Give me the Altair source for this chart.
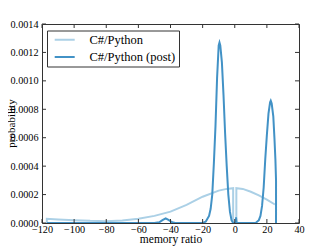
import altair as alt
import pandas as pd

# C#/Python (light curve)
light_x = [-117, -117, -110, -100, -90, -80, -70, -60, -50, -40, -30, -20, -10, -5, -1, -1, 1, 1, 5, 10, 15, 20, 25]
light_p = [0.0, 0.00003, 0.000025, 0.00002, 0.000015, 0.000013, 0.000017, 0.00003, 0.00005, 0.00008, 0.000128,
           0.000185, 0.000228, 0.00024, 0.000245, 0.0, 0.0, 0.000245, 0.00024, 0.00022, 0.000195, 0.000165, 0.00013]

# C#/Python (post) (dark curve)
post_x = [-117, -50, -47, -45, -43, -41, -39, -37, -20, -18, -16, -15, -14, -13, -12, -11, -10, -9.5, -9, -8, -7,
          -6, -5, -4, -3, -2, -1, 0.8, 0.8, 1.2, 13, 15, 16, 17, 18, 19, 20, 21, 22, 22.4, 23, 24, 24.7, 25.3, 25.7, 25.7]
post_p = [0.0, 0.0, 0.000005, 0.00002, 0.000033, 0.00002, 0.000005, 0.0, 0.0, 0.00001, 0.00005, 0.0001, 0.0002,
          0.00042, 0.00068, 0.00102, 0.00125, 0.00127, 0.00125, 0.00113, 0.0009, 0.00063, 0.0004, 0.0002, 0.00008,
          0.00002, 0.0, 0.0, 0.00004, 0.0, 0.0, 0.00002, 0.00005, 0.00012, 0.00025, 0.00045, 0.00062, 0.00077,
          0.00085, 0.00086, 0.00084, 0.00075, 0.0006, 0.00045, 0.0003, 0.0]

series_names = ["C#/Python", "C#/Python (post)"]
series_colors = ["#abd0e6", "#4292c6"]

x_ticks = [-120, -100, -80, -60, -40, -20, 0, 20, 40]
y_ticks = [0.0, 0.0002, 0.0004, 0.0006, 0.0008, 0.0010, 0.0012, 0.0014]

rows = []
for i, (x, p) in enumerate(zip(light_x, light_p)):
    rows.append({"x": x, "p": p, "series": series_names[0], "idx": i})
for i, (x, p) in enumerate(zip(post_x, post_p)):
    rows.append({"x": x, "p": p, "series": series_names[1], "idx": i})
df = pd.DataFrame(rows)

W, H = 257, 199
FONT = "Liberation Serif"

xscale = alt.Scale(domain=[-120, 40], nice=False, zero=False)
yscale = alt.Scale(domain=[0, 0.0014], nice=False)

xaxis = alt.Axis(values=x_ticks, title="memory ratio", ticks=False, domain=False, grid=False,
                 labelPadding=1, titleY=19.5, titleBaseline="alphabetic", titleFontWeight="normal",
                 titleFontSize=11.5, labelFontSize=10.2, labelOverlap=False, labelFlush=False,
                 labelFont=FONT, titleFont=FONT, labelColor="black", titleColor="black")
yaxis = alt.Axis(values=y_ticks, format=".4f", title="probability", ticks=False, domain=False,
                 grid=False, labelPadding=4, titleX=-28, titleY=99, titleAlign="center",
                 titleBaseline="alphabetic", titleAngle=-90, titleFontWeight="normal",
                 titleFontSize=11, labelFontSize=10.2, labelOverlap=False, labelFlush=False,
                 labelFont=FONT, titleFont=FONT, labelColor="black", titleColor="black")

lines = alt.Chart(df).mark_line(strokeWidth=2, clip=True).encode(
    x=alt.X("x:Q", scale=xscale, axis=xaxis),
    y=alt.Y("p:Q", scale=yscale, axis=yaxis),
    color=alt.Color("series:N", scale=alt.Scale(domain=series_names, range=series_colors),
                    legend=alt.Legend(title=None, orient="none", legendX=5, legendY=6.5, direction="vertical",
                                      symbolType="stroke", symbolSize=400, symbolStrokeWidth=2,
                                      clipHeight=12.6, rowPadding=4.1, padding=3,
                                      symbolOffset=3.7, labelOffset=13.7,
                                      labelFont=FONT, labelFontSize=12.5, labelColor="black",
                                      strokeColor="#333", fillColor="white")),
    order=alt.Order("idx:Q"),
)

xt = pd.DataFrame({"t": x_ticks})
yt = pd.DataFrame({"t": y_ticks})
tick_color = "#333"
xb = alt.Chart(xt).mark_rule(color=tick_color, strokeWidth=1).encode(
    x=alt.X("t:Q", scale=xscale, axis=xaxis), y=alt.value(H), y2=alt.value(H - 4))
xtop = alt.Chart(xt).mark_rule(color=tick_color, strokeWidth=1).encode(
    x=alt.X("t:Q", scale=xscale, axis=xaxis), y=alt.value(0), y2=alt.value(4))
yl = alt.Chart(yt).mark_rule(color=tick_color, strokeWidth=1).encode(
    y=alt.Y("t:Q", scale=yscale, axis=yaxis), x=alt.value(0), x2=alt.value(4))
yr = alt.Chart(yt).mark_rule(color=tick_color, strokeWidth=1).encode(
    y=alt.Y("t:Q", scale=yscale, axis=yaxis), x=alt.value(W), x2=alt.value(W - 4))

chart = alt.layer(lines, xb, xtop, yl, yr).properties(
    width=W, height=H,
    autosize=alt.AutoSizeParams(type="none"),
    padding={"left": 34, "top": 16, "right": 20, "bottom": 24},
    background="white",
).configure_view(stroke="#333", strokeWidth=1)

chart.save("out.html", embed_options={"renderer": "svg", "actions": False})
